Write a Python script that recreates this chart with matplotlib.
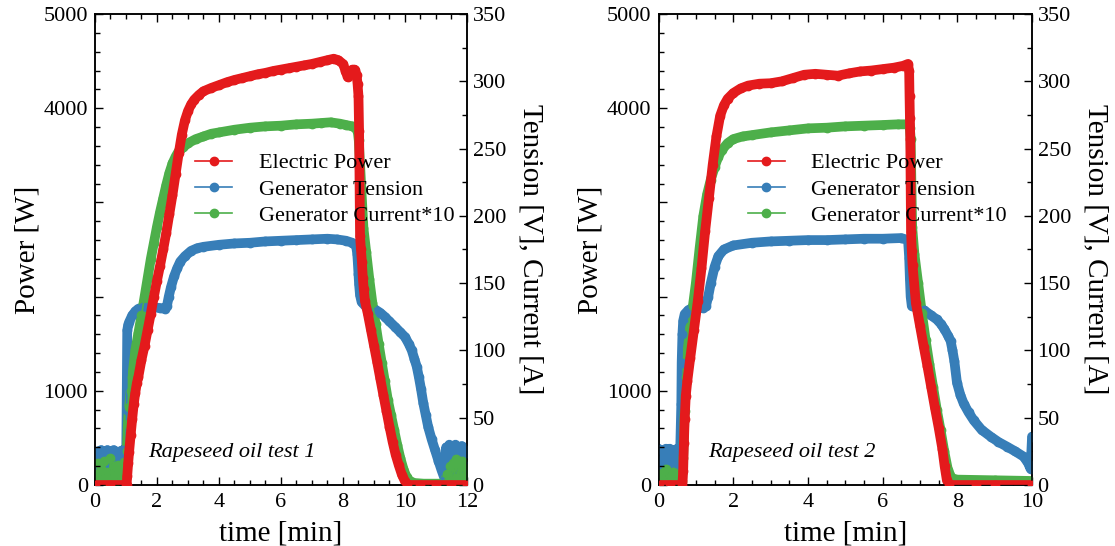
import numpy as np
import matplotlib
matplotlib.use('Agg')
import matplotlib.pyplot as plt
from matplotlib.ticker import MultipleLocator

plt.rcParams['font.family'] = ['Liberation Serif', 'DejaVu Serif']

# (time [min], power [W]) / (time, tension [V]) / (time, current*10)
# --- Rapeseed oil test 1 ---
power_1 = [(0, 0), (0.5, 0), (1.0, 0), (1.02, 0), (1.04, 100), (1.07, 230), (1.1, 350), (1.15, 530),
           (1.2, 700), (1.25, 860), (1.3, 980), (1.35, 1080), (1.4, 1150), (1.5, 1330), (1.6, 1480),
           (1.7, 1650), (1.8, 1820), (1.9, 2000), (2.0, 2170), (2.1, 2330), (2.2, 2500), (2.3, 2680),
           (2.4, 2880), (2.5, 3080), (2.6, 3300), (2.7, 3520), (2.8, 3720), (2.9, 3870), (3.0, 3970),
           (3.1, 4040), (3.2, 4090), (3.35, 4140), (3.5, 4180), (3.75, 4215), (4.0, 4245), (4.25, 4275),
           (4.5, 4300), (4.75, 4320), (5.0, 4340), (5.25, 4360), (5.5, 4375), (5.75, 4395), (6.0, 4410),
           (6.25, 4425), (6.5, 4440), (6.75, 4455), (7.0, 4470), (7.25, 4490), (7.5, 4510), (7.7, 4525),
           (7.85, 4510), (8.0, 4470), (8.08, 4400), (8.15, 4330), (8.22, 4380), (8.3, 4410), (8.38, 4410),
           (8.44, 4350), (8.47, 4260), (8.5, 4130), (8.52, 3760), (8.55, 2640), (8.58, 2500), (8.61, 2370),
           (8.64, 2200), (8.67, 2080), (8.71, 1950), (8.8, 1820), (8.9, 1650), (9.0, 1480), (9.1, 1310),
           (9.2, 1135), (9.3, 960), (9.4, 790), (9.5, 620), (9.6, 460), (9.7, 320), (9.8, 210), (9.9, 110),
           (10.0, 40), (10.08, 0), (10.5, 0), (11.0, 0), (11.5, 0), (12.0, 0)]

tension_1 = [(0.0, 24), (0.05, 4), (0.1, 25), (0.15, 10), (0.2, 26), (0.25, 2), (0.3, 23), (0.35, 14),
             (0.4, 26), (0.45, 5), (0.5, 24), (0.55, 9), (0.6, 26), (0.65, 3), (0.7, 22), (0.75, 12),
             (0.8, 25), (0.85, 6), (0.9, 26), (0.95, 22), (1.0, 8), (1.02, 56), (1.04, 115), (1.07, 119),
             (1.1, 121), (1.2, 126), (1.3, 129), (1.4, 131), (1.55, 132), (1.7, 132.5), (1.9, 132),
             (2.1, 131.5), (2.25, 131), (2.32, 133), (2.38, 140), (2.45, 147), (2.55, 155), (2.65, 161),
             (2.75, 166), (2.9, 170), (3.1, 174), (3.3, 176), (3.5, 177), (4.0, 178.5), (4.5, 179.5),
             (5.0, 180), (5.5, 181), (6.0, 181.5), (6.5, 182), (7.0, 182.5), (7.5, 183), (7.8, 182.5),
             (8.1, 181.5), (8.3, 180), (8.42, 178), (8.46, 172), (8.48, 165), (8.5, 157), (8.52, 149),
             (8.55, 141), (8.6, 136), (8.7, 133.5), (8.82, 132.5), (9.0, 131), (9.2, 128), (9.35, 125),
             (9.5, 121.5), (9.68, 117.5), (9.85, 113.5), (10.0, 110), (10.12, 105), (10.22, 100),
             (10.3, 94), (10.38, 88), (10.45, 80), (10.52, 71), (10.59, 61), (10.67, 52), (10.75, 43),
             (10.86, 34), (10.97, 26), (11.08, 18), (11.18, 11), (11.29, 4), (11.33, 28), (11.38, 6),
             (11.43, 30), (11.48, 10), (11.53, 29), (11.58, 4), (11.63, 30), (11.68, 12), (11.73, 28),
             (11.78, 3), (11.83, 29), (11.88, 8), (11.93, 26), (11.98, 14), (12.0, 24)]

current_1 = [(0.0, 8), (0.05, 2), (0.1, 16), (0.15, 4), (0.2, 12), (0.25, 1), (0.3, 18), (0.35, 6),
             (0.4, 10), (0.45, 3), (0.5, 20), (0.55, 5), (0.6, 14), (0.65, 2), (0.7, 9), (0.75, 15),
             (0.8, 4), (0.85, 11), (0.9, 6), (0.95, 17), (1.0, 6), (1.03, 25), (1.06, 45), (1.1, 58),
             (1.15, 70), (1.2, 80), (1.3, 100), (1.4, 113), (1.5, 126), (1.6, 140), (1.7, 154), (1.8, 168),
             (1.9, 180), (2.0, 192), (2.1, 203), (2.2, 213), (2.3, 223), (2.4, 232), (2.5, 239), (2.6, 244),
             (2.7, 248), (2.85, 251), (3.0, 254), (3.25, 257), (3.5, 259), (3.75, 261), (4.0, 262),
             (4.5, 264), (5.0, 265.5), (5.5, 266.5), (6.0, 267), (6.5, 268), (7.0, 268.5), (7.3, 269),
             (7.6, 269.5), (7.9, 268.5), (8.1, 267.5), (8.3, 266.5), (8.42, 265), (8.48, 262), (8.51, 256),
             (8.66, 191), (8.75, 173), (8.85, 153), (8.95, 135), (9.05, 120), (9.15, 105), (9.25, 91),
             (9.35, 77), (9.45, 63), (9.55, 52), (9.65, 41), (9.75, 30), (9.85, 20), (9.95, 12), (10.05, 6),
             (10.15, 3), (10.3, 1.5), (10.6, 1), (11.0, 1), (11.25, 1), (11.3, 1), (11.35, 8), (11.4, 2),
             (11.45, 14), (11.5, 3), (11.55, 16), (11.6, 5), (11.65, 19), (11.7, 2), (11.75, 15), (11.8, 6),
             (11.85, 18), (11.9, 3), (11.95, 13), (12.0, 7)]

# --- Rapeseed oil test 2 ---
power_2 = [(0, 0), (0.3, 0), (0.64, 0), (0.66, 150), (0.68, 450), (0.7, 700), (0.73, 950), (0.77, 1100),
           (0.85, 1350), (0.95, 1650), (1.05, 1950), (1.15, 2300), (1.25, 2700), (1.35, 3050), (1.45, 3400),
           (1.55, 3700), (1.65, 3920), (1.75, 4030), (1.85, 4100), (2.0, 4160), (2.2, 4210), (2.4, 4240),
           (2.7, 4260), (3.0, 4265), (3.3, 4285), (3.6, 4320), (3.9, 4355), (4.2, 4365), (4.5, 4355),
           (4.8, 4345), (5.1, 4370), (5.4, 4390), (5.7, 4400), (6.0, 4415), (6.3, 4430), (6.55, 4450),
           (6.68, 4470), (6.71, 4390), (6.72, 4130), (6.73, 3900), (6.74, 3670), (6.76, 2690), (6.78, 2485),
           (6.8, 2340), (6.89, 1930), (7.0, 1690), (7.1, 1470), (7.2, 1260), (7.3, 1040), (7.4, 820),
           (7.5, 610), (7.6, 380), (7.66, 200), (7.72, 50), (7.78, 0), (8.5, 0), (9.0, 0), (10.0, 0)]

tension_2 = [(0.0, 27), (0.05, 3), (0.1, 26), (0.15, 1), (0.2, 27), (0.25, 6), (0.3, 27), (0.35, 2),
             (0.4, 26), (0.45, 4), (0.5, 27), (0.55, 1), (0.58, 26), (0.61, 60), (0.62, 91), (0.64, 112),
             (0.66, 122), (0.7, 127), (0.8, 130), (0.9, 131.5), (1.0, 132), (1.1, 132), (1.2, 131.5),
             (1.27, 133), (1.33, 140), (1.4, 150), (1.5, 162), (1.6, 170), (1.75, 175), (2.0, 178),
             (2.5, 180), (3.0, 181), (3.5, 181.5), (4.0, 182), (4.5, 182), (5.0, 182.5), (5.5, 183),
             (6.0, 183), (6.5, 183.5), (6.68, 182), (6.71, 169), (6.73, 153), (6.75, 140), (6.78, 133),
             (6.9, 132), (7.1, 130), (7.3, 126), (7.45, 123), (7.55, 120), (7.65, 116), (7.75, 111),
             (7.82, 107), (7.87, 100), (7.92, 92), (7.99, 76), (8.08, 67), (8.17, 60.5), (8.3, 54),
             (8.44, 48), (8.65, 41), (8.89, 36), (9.1, 32), (9.33, 28.5), (9.55, 25), (9.78, 21), (9.9, 16),
             (9.96, 12), (10.0, 36)]

current_2 = [(0.0, 5), (0.05, 1), (0.1, 9), (0.15, 3), (0.2, 12), (0.25, 0), (0.3, 7), (0.35, 4),
             (0.4, 10), (0.45, 2), (0.5, 8), (0.55, 3), (0.6, 6), (0.62, 3), (0.66, 20), (0.7, 55),
             (0.74, 80), (0.78, 100), (0.85, 118), (0.92, 133), (1.0, 150), (1.1, 176), (1.2, 200),
             (1.3, 216), (1.4, 227), (1.5, 236), (1.6, 244), (1.7, 249), (1.85, 254), (2.0, 257),
             (2.25, 259), (2.5, 260), (3.0, 262), (3.5, 263.5), (4.0, 265), (4.5, 265.5), (5.0, 266.5),
             (5.5, 267), (6.0, 267.5), (6.4, 268), (6.7, 268), (6.73, 265), (6.75, 257), (6.79, 192),
             (6.85, 172), (6.95, 150), (7.05, 128), (7.15, 108), (7.25, 90), (7.35, 73), (7.45, 56),
             (7.55, 41), (7.65, 25), (7.75, 11), (7.85, 5), (8.0, 4), (9.0, 3.5), (10.0, 3)]

series_labels = ['Electric Power', 'Generator Tension', 'Generator Current*10']
panel_notes = ['Rapeseed oil test 1', 'Rapeseed oil test 2']
x_max = [12, 10]
power_ticks = [0, 1000, 2000, 3000, 4000, 5000]
power_ticklabels = ['0', '1000', '', '', '4000', '5000']

RED = '#e41a1c'
BLUE = '#377eb8'
GREEN = '#4daf4a'


def plot_series(ax, data, color, label):
    t, y = np.array(data).T
    # thick underlay to mimic the dense noisy band of samples
    ax.plot(t, y, color=color, lw=7, solid_joinstyle='round', solid_capstyle='round', zorder=2)
    line, = ax.plot(t, y, 'o-', color=color, lw=1.2, ms=6, mec=color, label=label, zorder=3)
    return line


def draw_panel(rect, power, tension, current, xmax, note, leg_x, note_x):
    ax = fig.add_axes(rect)
    ax2 = ax.twinx()

    h_blue = plot_series(ax, tension, BLUE, series_labels[1])
    h_green = plot_series(ax, current, GREEN, series_labels[2])
    h_red = plot_series(ax2, power, RED, series_labels[0])

    ax.set_xlim(0, xmax)
    ax.set_ylim(0, 350)
    ax2.set_ylim(0, 5000)

    ax.xaxis.set_major_locator(MultipleLocator(2))
    ax.xaxis.set_minor_locator(MultipleLocator(0.5))
    ax.yaxis.set_major_locator(MultipleLocator(50))
    ax.yaxis.set_minor_locator(MultipleLocator(25))
    ax2.set_yticks(power_ticks)
    ax2.set_yticklabels(power_ticklabels)
    ax2.yaxis.set_minor_locator(MultipleLocator(200))

    ax.yaxis.tick_right()
    ax.yaxis.set_label_position('right')
    ax2.yaxis.tick_left()
    ax2.yaxis.set_label_position('left')

    for a in (ax, ax2):
        a.tick_params(which='both', direction='in', labelsize=16, width=1, colors='black')
        a.tick_params(which='major', length=6)
        a.tick_params(which='minor', length=3.5)
        for s in a.spines.values():
            s.set_linewidth(1.1)
    ax.tick_params(axis='x', which='both', top=True, bottom=True, pad=6)
    ax.tick_params(axis='y', which='both', right=True, left=False, labelright=True, labelleft=False, pad=4)
    ax2.tick_params(axis='y', which='both', left=True, right=False, labelleft=True, labelright=False, pad=5)

    ax.set_xlabel('time [min]', fontsize=21)
    ax.xaxis.set_label_coords(0.5, -0.075)
    ax2.set_ylabel('Power [W]', fontsize=21)
    ax2.yaxis.set_label_coords(-0.147, 0.5)
    ax.set_ylabel('Tension [V], Current [A]', fontsize=21, rotation=270, va='bottom')
    ax.yaxis.set_label_coords(1.135, 0.5)

    ax2.text(note_x, 0.068, note, transform=ax2.transAxes, fontsize=16, style='italic',
             va='center', ha='left')
    ax2.legend([h_red, h_blue, h_green], series_labels, loc='upper left',
               bbox_to_anchor=(leg_x, 0.705), frameon=False, fontsize=16,
               handlelength=1.65, handletextpad=1.2, labelspacing=0.26,
               borderpad=0, borderaxespad=0)


fig = plt.figure(figsize=(11.15, 5.46), dpi=100)
draw_panel([0.0852, 0.1117, 0.3336, 0.8627], power_1, tension_1, current_1,
           x_max[0], panel_notes[0], 0.27, 0.142)
draw_panel([0.5906, 0.1117, 0.3350, 0.8627], power_2, tension_2, current_2,
           x_max[1], panel_notes[1], 0.24, 0.133)

fig.savefig('out.png', dpi=100)
